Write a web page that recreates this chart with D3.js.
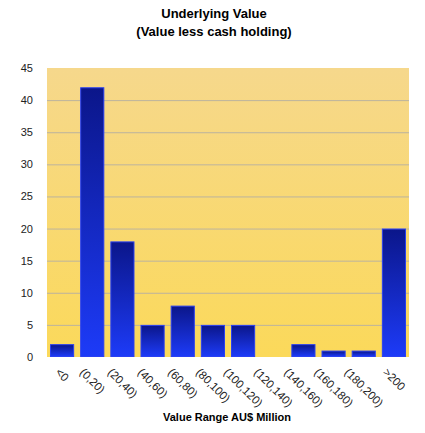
<!DOCTYPE html>
<html>
<head>
<meta charset="utf-8">
<script src="https://cdn.jsdelivr.net/npm/d3@7"></script>
<style>
  body { margin: 0; background: #fff; }
  text { font-family: "Liberation Sans", Arial, sans-serif; }
</style>
</head>
<body>
<div id="chart"></div>
<script>
// data
var categories = ["<0", "(0,20)", "(20,40)", "(40,60)", "(60,80)", "(80,100)",
                  "(100,120)", "(120,140)", "(140,160)", "(160,180)", "(180,200)", ">200"];
var counts = [2, 42, 18, 5, 8, 5, 5, 0, 2, 1, 1, 20];
var yTicks = [0, 5, 10, 15, 20, 25, 30, 35, 40, 45];

var margin = {top: 68, right: 16, bottom: 76, left: 47},
    width = 425 - margin.left - margin.right,
    height = 433 - margin.top - margin.bottom;

var svg = d3.select("#chart")
  .append("svg")
    .attr("width", 425)
    .attr("height", 433);

var defs = svg.append("defs");
var bg = defs.append("linearGradient").attr("id", "bg")
  .attr("x1", 0).attr("y1", 0).attr("x2", 0).attr("y2", 1);
bg.append("stop").attr("offset", "0%").attr("stop-color", "#f6d88c");
bg.append("stop").attr("offset", "100%").attr("stop-color", "#fbd95a");

var barGrad = defs.append("linearGradient").attr("id", "bar")
  .attr("x1", 0).attr("y1", 0).attr("x2", 0).attr("y2", 1);
barGrad.append("stop").attr("offset", "0%").attr("stop-color", "#0b168a");
barGrad.append("stop").attr("offset", "100%").attr("stop-color", "#1d3bf8");

var g = svg.append("g")
    .attr("transform", "translate(" + margin.left + "," + margin.top + ")");

var x = d3.scaleBand()
  .domain(categories)
  .range([0, width])
  .paddingInner(0.2)
  .paddingOuter(0.1);

var y = d3.scaleLinear()
  .domain([0, 45])
  .range([height, 0]);

// plot background
g.append("rect")
  .attr("width", width)
  .attr("height", height)
  .attr("fill", "url(#bg)");

// gridlines
g.selectAll(".grid")
  .data(yTicks.filter(function(d) { return d > 0 && d < 45; }))
  .enter().append("line")
    .attr("x1", 0).attr("x2", width)
    .attr("y1", function(d) { return y(d) + 0.5; })
    .attr("y2", function(d) { return y(d) + 0.5; })
    .attr("stroke", "#bcb39e")
    .attr("stroke-width", 1);

// bars
var barData = categories.map(function(c, i) { return {cat: c, value: counts[i]}; })
  .filter(function(d) { return d.value > 0; });

g.selectAll(".bar")
  .data(barData)
  .enter().append("rect")
    .attr("class", "bar")
    .attr("x", function(d) { return x(d.cat) + 0.5; })
    .attr("y", function(d) { return y(d.value) + 0.5; })
    .attr("width", x.bandwidth() - 1)
    .attr("height", function(d) { return height - y(d.value) - 1; })
    .attr("fill", "url(#bar)")
    .attr("stroke", "#2a40f2")
    .attr("stroke-width", 1);

// y axis labels
var yAxis = g.append("g")
  .call(d3.axisLeft(y).tickValues(yTicks).tickSize(0).tickPadding(14));
yAxis.select(".domain").remove();
yAxis.selectAll("text")
  .attr("font-size", 11)
  .attr("font-family", "'Liberation Sans', Arial, sans-serif")
  .attr("fill", "#222");

// x labels, rotated 45 degrees
var xl = g.append("g");
categories.forEach(function(c) {
  var t = xl.append("text")
    .attr("font-size", 11.5)
    .attr("fill", "#222")
    .text(c);
  var w = t.node().getComputedTextLength();
  var cx = x(c) + x.bandwidth() / 2 - 2.6 - 0.354 * w;
  t.attr("transform", "translate(" + cx + "," + (height + 16) + ") rotate(45)");
});

// titles
svg.append("text")
  .attr("x", 214).attr("y", 18)
  .attr("text-anchor", "middle")
  .attr("font-size", 13).attr("font-weight", "bold")
  .text("Underlying Value");
svg.append("text")
  .attr("x", 214).attr("y", 36)
  .attr("text-anchor", "middle")
  .attr("font-size", 13).attr("font-weight", "bold")
  .text("(Value less cash holding)");

svg.append("text")
  .attr("x", 227).attr("y", 421)
  .attr("text-anchor", "middle")
  .attr("font-size", 11).attr("font-weight", "bold")
  .text("Value Range AU$ Million");
</script>
</body>
</html>
